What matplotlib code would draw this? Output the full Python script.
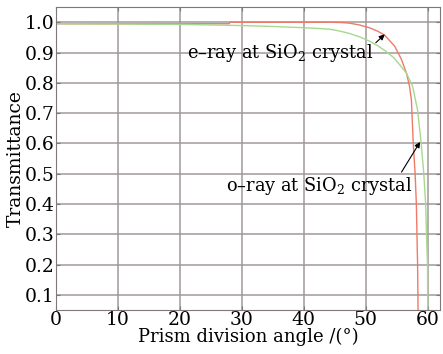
import matplotlib

matplotlib.use("Agg")
import matplotlib.pyplot as plt

# e-ray (red) and o-ray (green) transmittance vs prism division angle
e_angle = [0, 28, 28.1, 44.2, 46.0, 47.4, 49.0, 50.6, 52.0, 53.1, 54.7, 55.8, 56.6,
           57.1, 57.4, 57.7, 58.0, 58.2, 58.3, 58.4, 58.5]
e_trans = [0.995, 0.995, 1.0, 1.0, 0.999, 0.997, 0.991, 0.982, 0.970, 0.957, 0.921,
           0.877, 0.832, 0.788, 0.743, 0.6, 0.5, 0.4, 0.3, 0.2, 0.0]
o_angle = [0, 20, 30, 35, 40, 42, 44.2, 45.8, 47.4, 49.0, 50.6, 52.0, 53.3, 54.5,
           55.5, 56.6, 57.6, 58.06, 58.4, 58.98, 59.4, 59.7, 59.84, 60.0, 60.05]
o_trans = [0.995, 0.993, 0.989, 0.986, 0.982, 0.980, 0.977, 0.971, 0.963, 0.952,
           0.938, 0.922, 0.904, 0.884, 0.86, 0.832, 0.788, 0.743, 0.71, 0.6, 0.5,
           0.4, 0.3, 0.2, 0.0]

x_ticks = [0, 10, 20, 30, 40, 50, 60]
y_ticks = [0.1, 0.2, 0.3, 0.4, 0.5, 0.6, 0.7, 0.8, 0.9, 1.0]

plt.rcParams["font.family"] = "DejaVu Serif"
plt.rcParams["mathtext.fontset"] = "dejavuserif"

fig = plt.figure(figsize=(4.43, 3.54), dpi=100)
ax = fig.add_axes([0.126, 0.124, 0.867, 0.856])

ax.plot(e_angle, e_trans, color="#f07a68", linewidth=1.0)
ax.plot(o_angle, o_trans, color="#a6d98e", linewidth=1.0)

ax.set_xlim(0, 62)
ax.set_ylim(0.05, 1.05)
ax.set_xticks(x_ticks)
ax.set_yticks(y_ticks)
ax.set_yticklabels([f"{v:.1f}" for v in y_ticks])
ax.grid(True, color="#a09898", linewidth=1.1)
ax.set_axisbelow(True)
for s in ax.spines.values():
    s.set_color("#807878")
ax.tick_params(direction="in", length=3, color="#807878", labelsize=13.5, pad=1,
               right=True, top=True)

ax.set_xlabel("Prism division angle /(°)", fontsize=13, labelpad=-1)
ax.set_ylabel("Transmittance", fontsize=13.5, labelpad=0)

ax.annotate("e–ray at SiO$_2$ crystal", xy=(53.1, 0.96), xytext=(21.1, 0.90),
            fontsize=12.8, va="center", ha="left",
            arrowprops=dict(arrowstyle="-|>", color="black", linewidth=0.8,
                            mutation_scale=8, shrinkA=0, shrinkB=0,
                            relpos=(0.99, 0.75)))
ax.annotate("o–ray at SiO$_2$ crystal", xy=(58.8, 0.605), xytext=(27.5, 0.46),
            fontsize=12.8, va="center", ha="left",
            arrowprops=dict(arrowstyle="-|>", color="black", linewidth=0.8,
                            mutation_scale=8, shrinkA=0, shrinkB=0,
                            relpos=(0.93, 1.0)))

fig.savefig("out.png", dpi=100)
